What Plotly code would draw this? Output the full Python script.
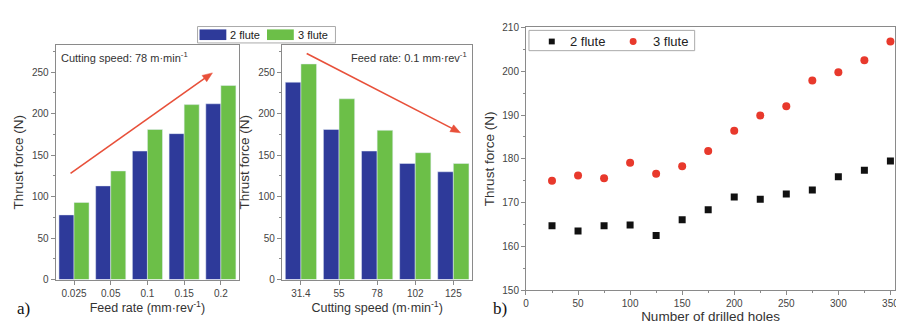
import math
import plotly.graph_objects as go

feed_rates = ["0.025", "0.05", "0.1", "0.15", "0.2"]
feed_2flute = [78, 113, 155, 176, 212]
feed_3flute = [93, 131, 181, 211, 234]

speeds = ["31.4", "55", "78", "102", "125"]
speed_2flute = [238, 181, 155, 140, 130]
speed_3flute = [260, 218, 180, 153, 140]

holes = [25, 50, 75, 100, 125, 150, 175, 200, 225, 250, 275, 300, 325, 350]
holes_2flute = [164.7, 163.5, 164.7, 164.9, 162.5, 166.1, 168.4, 171.3, 170.8, 172.0, 172.9, 175.9, 177.4, 179.5]
holes_3flute = [175.0, 176.2, 175.6, 179.1, 176.6, 178.3, 181.8, 186.4, 189.9, 192.0, 197.9, 199.8, 202.5, 206.8]

series_names = ["2 flute", "3 flute"]

BLUE = "#2e3a9a"
GREEN = "#6cbf48"
RED = "#e8392c"
BLACK = "#111111"
ARROW = "#e8503a"
FONT = "Liberation Sans, Arial, sans-serif"
SERIF = "Liberation Serif, DejaVu Serif, serif"
W, H = 904, 323

fig = go.Figure()
fig.add_trace(go.Bar(x=feed_rates, y=feed_2flute, name=series_names[0], marker_color=BLUE,
                     xaxis="x", yaxis="y"))
fig.add_trace(go.Bar(x=feed_rates, y=feed_3flute, name=series_names[1], marker_color=GREEN,
                     xaxis="x", yaxis="y"))
fig.add_trace(go.Bar(x=speeds, y=speed_2flute, name=series_names[0], marker_color=BLUE,
                     xaxis="x2", yaxis="y2"))
fig.add_trace(go.Bar(x=speeds, y=speed_3flute, name=series_names[1], marker_color=GREEN,
                     xaxis="x2", yaxis="y2"))
fig.add_trace(go.Scatter(x=holes, y=holes_2flute, mode="markers", name=series_names[0],
                         marker=dict(symbol="square", size=7, color=BLACK),
                         xaxis="x3", yaxis="y3"))
fig.add_trace(go.Scatter(x=holes, y=holes_3flute, mode="markers", name=series_names[1],
                         marker=dict(symbol="circle", size=8, color=RED),
                         xaxis="x3", yaxis="y3"))

def px(x):
    return x / W

def py(y):
    return 1 - y / H

axis_common = dict(showline=True, linecolor="#8a8a8a", linewidth=1, mirror=True,
                   ticks="outside", ticklen=4, tickcolor="#8a8a8a",
                   tickfont=dict(size=10, color="#444", family=FONT),
                   showgrid=False, zeroline=False)
xt_font = dict(size=12.5, color="#333", family=FONT)
yt_font = dict(size=13.5, color="#333", family=FONT)
bt_font = dict(size=13.5, color="#333", family=FONT)

fig.update_layout(
    width=W, height=H, margin=dict(l=0, r=0, t=0, b=0),
    paper_bgcolor="white", plot_bgcolor="white",
    font=dict(family=FONT, color="#333"),
    barmode="group", bargap=0.18, bargroupgap=0,
    showlegend=False,
    xaxis=dict(domain=[px(45), px(230)], anchor="y",
               title=dict(text="Feed rate (mm·rev<sup>-1</sup>)", font=xt_font, standoff=4),
               **axis_common),
    yaxis=dict(domain=[py(276), py(33)], anchor="x", range=[0, 283],
               tickvals=[0, 50, 100, 150, 200, 250],
               minor=dict(ticks="outside", ticklen=2, tickcolor="#8a8a8a", dtick=25),
               title=dict(text="Thrust force (N)", font=yt_font, standoff=5),
               **axis_common),
    xaxis2=dict(domain=[px(273), px(465)], anchor="y2",
                title=dict(text="Cutting speed (m·min<sup>-1</sup>)", font=xt_font, standoff=4),
                **axis_common),
    yaxis2=dict(domain=[py(276), py(33)], anchor="x2", range=[0, 283],
                tickvals=[0, 50, 100, 150, 200, 250],
                minor=dict(ticks="outside", ticklen=2, tickcolor="#8a8a8a", dtick=25),
                title=dict(text="Thrust force (N)", font=yt_font, standoff=5),
                **axis_common),
    xaxis3=dict(domain=[px(519), px(891)], anchor="y3", range=[0, 354.5],
                tickvals=[0, 50, 100, 150, 200, 250, 300, 350],
                minor=dict(ticks="outside", ticklen=2, tickcolor="#8a8a8a", dtick=25),
                title=dict(text="Number of drilled holes", font=bt_font, standoff=3),
                **axis_common),
    yaxis3=dict(domain=[py(287), py(15)], anchor="x3", range=[150, 210],
                tickvals=[150, 160, 170, 180, 190, 200, 210],
                minor=dict(ticks="outside", ticklen=2, tickcolor="#8a8a8a", dtick=5),
                title=dict(text="Thrust force (N)", font=bt_font, standoff=4),
                **axis_common),
)

def label(text, x, y, size=11):
    fig.add_annotation(text=text, xref="paper", yref="paper", x=px(x), y=py(y),
                       xanchor="left", yanchor="middle", showarrow=False,
                       font=dict(size=size, color="#222", family=FONT))

# legend for the bar panels (wide swatches as in the reference)
fig.add_shape(type="rect", xref="paper", yref="paper", x0=px(188), x1=px(327), y0=py(31), y1=py(14),
              line=dict(color="#aaa", width=1), fillcolor="white")
fig.add_shape(type="rect", xref="paper", yref="paper", x0=px(190), x1=px(217), y0=py(28), y1=py(17),
              line=dict(width=0), fillcolor=BLUE)
fig.add_shape(type="rect", xref="paper", yref="paper", x0=px(258), x1=px(285), y0=py(28), y1=py(17),
              line=dict(width=0), fillcolor=GREEN)
label(series_names[0], 219, 22.5)
label(series_names[1], 287, 22.5)

# legend for the scatter panel
fig.add_shape(type="rect", xref="paper", yref="paper", x0=px(522), x1=px(689), y0=py(39), y1=py(18),
              line=dict(color="#aaa", width=1), fillcolor="white")
fig.add_shape(type="rect", xref="paper", yref="paper", x0=px(542), x1=px(548), y0=py(32.5), y1=py(26.5),
              line=dict(width=0), fillcolor=BLACK)
fig.add_shape(type="circle", xref="paper", yref="paper", x0=px(623.5), x1=px(630.5), y0=py(33), y1=py(26),
              line=dict(width=0), fillcolor=RED)
label(series_names[0], 561, 29.5, 13)
label(series_names[1], 645, 29.5, 13)

fig.add_annotation(text="Cutting speed: 78 m·min<sup>-1</sup>", xref="paper", yref="paper",
                   x=px(48), y=py(36), xanchor="left", yanchor="top", showarrow=False,
                   font=dict(size=11, color="#333", family=FONT))
fig.add_annotation(text="Feed rate: 0.1 mm·rev<sup>-1</sup>", xref="paper", yref="paper",
                   x=px(462), y=py(36), xanchor="right", yanchor="top", showarrow=False,
                   font=dict(size=11, color="#333", family=FONT))

# trend arrows drawn as shapes
def arrow(x0, y0, x1, y1):
    dx, dy = x1 - x0, y1 - y0
    L = math.hypot(dx, dy)
    ux, uy = dx / L, dy / L
    hl, hw = 10, 4
    bx, by = x1 - hl * ux, y1 - hl * uy
    fig.add_shape(type="line", xref="paper", yref="paper",
                  x0=px(x0), y0=py(y0), x1=px(bx + 2 * ux), y1=py(by + 2 * uy),
                  line=dict(color=ARROW, width=1.6))
    pts = [(x1, y1), (bx - hw * uy, by + hw * ux), (bx + hw * uy, by - hw * ux)]
    path = "M " + " L ".join(f"{px(a):.5f},{py(b):.5f}" for a, b in pts) + " Z"
    fig.add_shape(type="path", xref="paper", yref="paper", path=path,
                  line=dict(color=ARROW, width=0.5), fillcolor=ARROW)

arrow(60, 166, 203, 62)
arrow(298, 42, 453, 124)

# panel labels
fig.add_annotation(text="a)", xref="paper", yref="paper", x=px(4), y=py(318),
                   xanchor="left", yanchor="bottom", showarrow=False,
                   font=dict(size=17, color="#111", family=SERIF))
fig.add_annotation(text="b)", xref="paper", yref="paper", x=px(484), y=py(318),
                   xanchor="left", yanchor="bottom", showarrow=False,
                   font=dict(size=17, color="#111", family=SERIF))

fig.write_html("out.html")
